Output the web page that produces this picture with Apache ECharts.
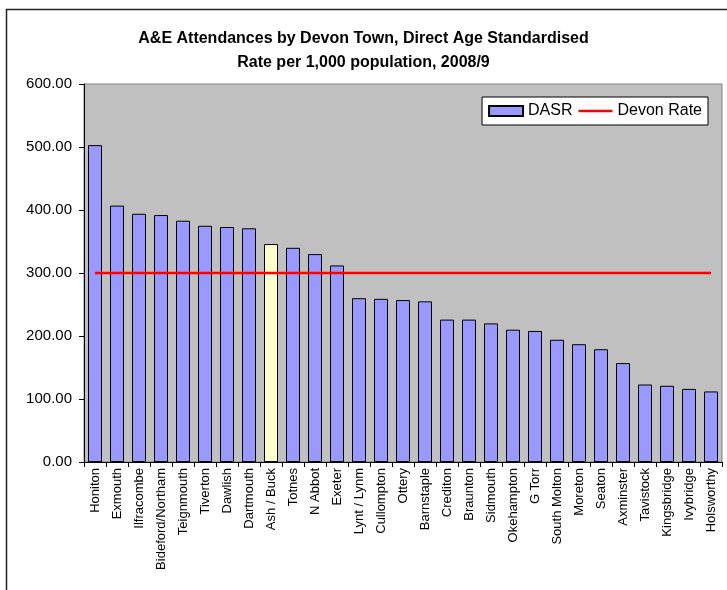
<!DOCTYPE html>
<html>
<head>
<meta charset="utf-8">
<script src="https://cdn.jsdelivr.net/npm/echarts@6/dist/echarts.min.js"></script>
<style>
html,body{margin:0;padding:0;background:#fff;}
#chart{width:727px;height:590px;}
</style>
</head>
<body>
<div id="chart"></div>
<script>
// towns, in the order of the chart
var towns = ['Honiton','Exmouth','Ilfracombe','Bideford/Northam','Teignmouth','Tiverton','Dawlish','Dartmouth','Ash / Buck','Totnes','N Abbot','Exeter','Lynt / Lynm','Cullompton','Ottery','Barnstaple','Crediton','Braunton','Sidmouth','Okehampton','G Torr','South Molton','Moreton','Seaton','Axminster','Tavistock','Kingsbridge','Ivybridge','Holsworthy'];
// DASR per 1,000
var dasr = [503,407,394,392,383,375,373,371,346,340,330,312,260,259,257,255,226,226,220,210,208,194,187,179,157,123,121,116,112];
var devonRate = 300;
var highlightTown = 'Ash / Buck';
var yTicks = [0,100,200,300,400,500,600];

var font = 'Arial, "Liberation Sans", sans-serif';
var myChart = echarts.init(document.getElementById('chart'));

var barData = [];
for (var i = 0; i < towns.length; i++) {
	if (towns[i] == highlightTown) {
		barData.push({value: dasr[i], itemStyle: {color: '#FFFFCC'}});
	} else {
		barData.push(dasr[i]);
	}
}
var rateData = [];
for (i = 0; i < towns.length; i++) rateData.push(devonRate);

var option = {
	animation: false,
	textStyle: {fontFamily: font},
	title: {
		text: 'A&E Attendances by Devon Town, Direct Age Standardised\nRate per 1,000 population, 2008/9',
		left: 'center',
		top: 22,
		textStyle: {fontFamily: font, fontSize: 16, fontWeight: 'bold', color: '#000', lineHeight: 24}
	},
	graphic: [{
		type: 'rect',
		left: 4, top: 7,
		shape: {width: 900, height: 900},
		style: {fill: 'none', stroke: '#222', lineWidth: 1.5},
		silent: true
	}],
	legend: {
		right: 19,
		top: 97,
		backgroundColor: '#fff',
		borderColor: '#000',
		borderWidth: 1,
		borderRadius: 0,
		padding: [6, 6, 6, 6],
		itemGap: 6,
		itemWidth: 34,
		itemHeight: 10,
		textStyle: {fontFamily: font, fontSize: 16, color: '#000'},
		data: [
			{name: 'DASR', icon: 'rect'},
			{name: 'Devon Rate', icon: 'path://M0,0H30V2.2H0Z', itemStyle: {color: '#FF0000'}}
		]
	},
	grid: {
		left: 84, right: 5, top: 84, bottom: 128,
		show: true,
		backgroundColor: '#C0C0C0',
		borderColor: '#808080',
		borderWidth: 1
	},
	xAxis: [{
		type: 'category',
		data: towns,
		axisLine: {lineStyle: {color: '#000', width: 1}},
		axisTick: {show: true, length: 5, lineStyle: {color: '#000'}},
		axisLabel: {rotate: 90, interval: 0, fontFamily: font, fontSize: 13, color: '#000', margin: 6}
	}],
	yAxis: [{
		type: 'value',
		min: yTicks[0],
		max: yTicks[yTicks.length - 1],
		interval: 100,
		splitLine: {show: false},
		axisLine: {show: true, lineStyle: {color: '#000', width: 1}},
		axisTick: {show: true, length: 5, lineStyle: {color: '#000'}},
		axisLabel: {
			fontFamily: font, fontSize: 15, color: '#000', margin: 12,
			formatter: function (v) { return v.toFixed(2); }
		}
	}],
	series: [
		{
			name: 'DASR',
			type: 'bar',
			data: barData,
			barWidth: 14,
			itemStyle: {color: '#9999FF', borderColor: '#000', borderWidth: 1}
		},
		{
			name: 'Devon Rate',
			type: 'line',
			data: rateData,
			symbol: 'none',
			lineStyle: {color: '#FF0000', width: 2.5},
			itemStyle: {color: '#FF0000'}
		}
	]
};
myChart.setOption(option);
</script>
</body>
</html>
